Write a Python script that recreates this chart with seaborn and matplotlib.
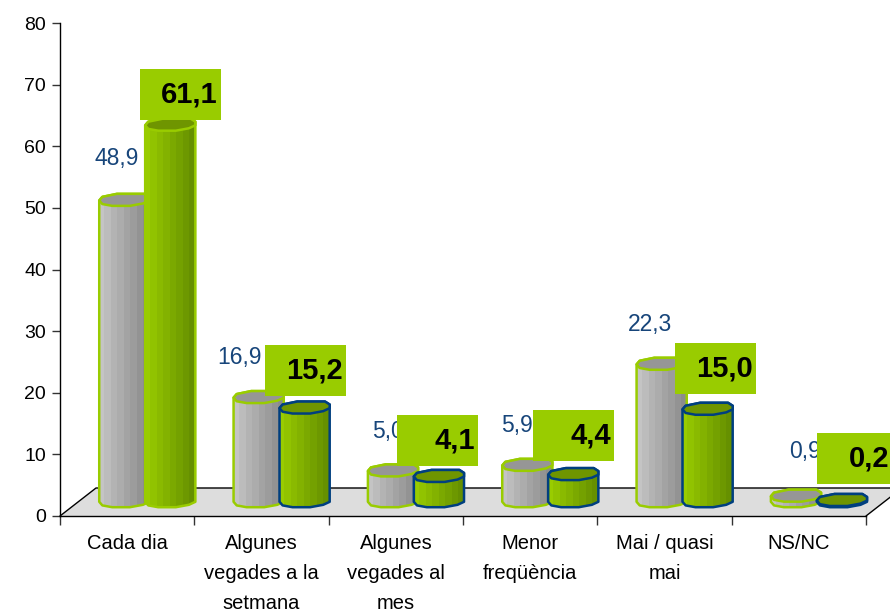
import numpy as np
import pandas as pd
import matplotlib
matplotlib.use("Agg")
import matplotlib.pyplot as plt
from matplotlib.patches import Polygon, Rectangle
from matplotlib.colors import LinearSegmentedColormap
import seaborn as sns

categories = ["Cada dia", "Algunes\nvegades a la\nsetmana", "Algunes\nvegades al\nmes",
              "Menor\nfreqüència", "Mai / quasi\nmai", "NS/NC"]
series_a = [48.9, 16.9, 5.0, 5.9, 22.3, 0.9]
series_b = [61.1, 15.2, 4.1, 4.4, 15.0, 0.2]
y_ticks = [0, 10, 20, 30, 40, 50, 60, 70, 80]

# style / layout (pixels of the 890x613 picture)
W, H = 890, 613
AX_L, AX_R, AX_T, AX_B = 60, 866, 23, 516
GRAY_LABEL_DX = [-8, -19, -5, -10, -12, 9]
GRAY_LABEL_DY = [-41, -40, -39, -39, -39, -44]
BOX_DX = [10, 1, -1, 0, 8, 16]
BOX_DY = [-30, -37, -35, -39, -40, -41]

sns.set_style("ticks")
plt.rcParams["font.family"] = ["Liberation Sans", "DejaVu Sans"]

fig = plt.figure(figsize=(W / 100, H / 100), dpi=100)
ax = fig.add_axes([AX_L / W, 1 - AX_B / H, (AX_R - AX_L) / W, (AX_B - AX_T) / H])

df = pd.DataFrame({
    "cat": categories * 2,
    "serie": ["a"] * 6 + ["b"] * 6,
    "val": series_a + series_b,
})
BASE = 2.4
sns.barplot(data=df, x="cat", y="val", hue="serie", order=categories, hue_order=["a", "b"],
            palette={"a": "#b0b0b0", "b": "#88b800"}, width=0.684, gap=0, dodge=True,
            bottom=BASE, legend=False, errorbar=None, ax=ax, zorder=1.5, linewidth=0)

ax.set_xlim(-0.5, 5.5)
ax.set_ylim(0, 80)
px = (AX_R - AX_L) / 6          # pixels per category
py = (AX_B - AX_T) / 80         # pixels per y unit
to_x = lambda p: p / px
to_y = lambda p: p / py

# floor in perspective
DEPTH_X, DEPTH_Y = 36, 28
floor = [(-0.5, 0), (5.5, 0), (5.5 + to_x(DEPTH_X), to_y(DEPTH_Y)), (-0.5 + to_x(DEPTH_X), to_y(DEPTH_Y))]
ax.add_patch(Polygon(floor, closed=True, facecolor="#dddddd", edgecolor="none", clip_on=False, zorder=1))
ax.plot([floor[0][0], floor[3][0], floor[2][0]], [floor[0][1], floor[3][1], floor[2][1]],
        color="black", lw=1, clip_on=False, zorder=1.1)
ax.plot([floor[1][0], floor[2][0]], [floor[1][1], floor[2][1]], color="black", lw=1, clip_on=False, zorder=1.1)

# cylinder-like shape from each bar
CAP = np.array([(-.96, .1), (-.84, -.5), (-.28, -1), (.79, -1), (.97, -.5), (.97, .1),
                (.72, .6), (.22, 1), (-.46, 1), (-.84, .7)])
LOWER = CAP[[5, 6, 7, 8, 9, 0]]
SHIFT = to_x(20)
HW = to_x(26)
HH = to_y(6)
cm_gray = LinearSegmentedColormap.from_list("g", ["#c4c4c4", "#8c8c8c"])
cm_green = LinearSegmentedColormap.from_list("v", ["#99cc00", "#669000"])
LIME, NAVY = "#99cc00", "#003f7f"

for k, (cont, cmap, capc) in enumerate(zip(ax.containers, [cm_gray, cm_green], ["#969696", "#6f9500"])):
    for i, bar in enumerate(cont):
        bar.set_x(bar.get_x() + SHIFT)
        cx = bar.get_x() + bar.get_width() / 2
        y0, y1 = bar.get_y(), bar.get_y() + bar.get_height()
        edge = LIME if (k == 0 or i == 0) else NAVY
        z = 2 + k + i * 0.01
        top = CAP[[0, 1, 2, 3, 4, 5]]
        outline = [(cx + a * HW, y1 + (-b) * HH) for a, b in top] + [(cx + a * HW, y0 - b * HH) for a, b in LOWER]
        sil = Polygon(outline, closed=True, facecolor="none", edgecolor="none", transform=ax.transData)
        ax.add_patch(sil)
        im = ax.imshow(np.linspace(0, 1, 8)[None, :], cmap=cmap, aspect="auto", interpolation="nearest",
                       extent=(cx - HW, cx + HW, y0 - HH, y1 + HH), zorder=z)
        im.set_clip_path(sil)
        ax.add_patch(Polygon(outline, closed=True, facecolor="none", edgecolor=edge, lw=1.8, zorder=z + 0.001,
                             joinstyle="round", clip_on=False))
        cap = [(cx + a * HW, y1 - b * HH) for a, b in CAP]
        ax.add_patch(Polygon(cap, closed=True, facecolor=capc, edgecolor=edge, lw=1.8, zorder=z + 0.002,
                             joinstyle="round", clip_on=False))

        txt = f"{bar.get_height():.1f}".replace(".", ",")
        if k == 0:
            ax.text(cx + to_x(GRAY_LABEL_DX[i]), y1 - to_y(GRAY_LABEL_DY[i]), txt, color="#17457a",
                    fontsize=16.5, ha="center", va="center", zorder=5)
        else:
            bx = cx + to_x(BOX_DX[i])
            by = y1 - to_y(BOX_DY[i])
            bw, bh = to_x(81), to_y(51)
            ax.add_patch(Rectangle((bx - bw / 2, by - bh / 2), bw, bh, facecolor=LIME, edgecolor="none",
                                   clip_on=False, zorder=6))
            right = min(bx + bw / 2 - to_x(3), 5.5 + to_x(889 - AX_R))
            ax.text(right, by, txt, color="black", fontsize=21, fontweight="bold",
                    ha="right", va="center", zorder=7, clip_on=False)

ax.set_xlim(-0.5, 5.5)
ax.set_ylim(0, 80)
ax.set_xlabel("")
ax.set_ylabel("")
ax.set_yticks(y_ticks)
ax.tick_params(axis="y", length=6, width=1, color="#333333", labelsize=14, pad=4, labelcolor="black")
ax.set_xticks(np.arange(6))
ax.set_xticklabels(categories, fontsize=14.5, linespacing=1.72, color="black")
ax.tick_params(axis="x", which="major", length=0, pad=13)
ax.set_xticks(np.arange(-0.5, 6, 1), minor=True)
ax.tick_params(axis="x", which="minor", length=6.5, width=1, color="#333333")
sns.despine(ax=ax)
for s in ["left", "bottom"]:
    ax.spines[s].set_linewidth(1)
    ax.spines[s].set_color("black")

fig.savefig("out.png", dpi=100)
